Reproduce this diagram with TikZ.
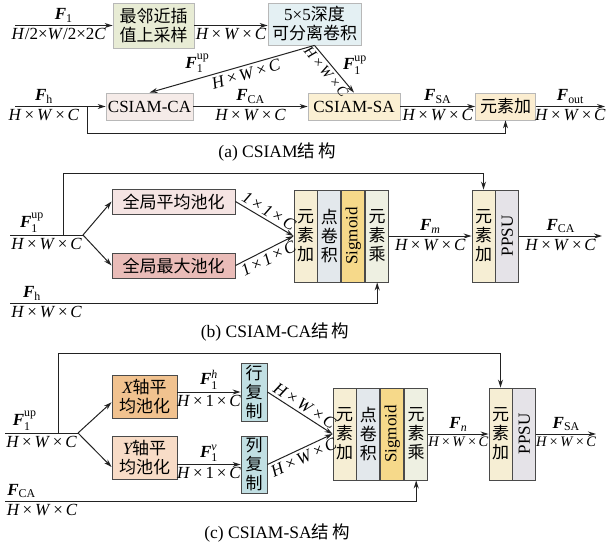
\documentclass[tikz,border=0pt]{standalone}
\usepackage{amsmath}
\usepackage{fontspec}
\setmainfont{Liberation Serif}
\newfontfamily\cjk{Noto Sans CJK SC}
\usetikzlibrary{positioning,arrows.meta,calc}
\definecolor{inkDark}{HTML}{222222}
\definecolor{edgeLight}{HTML}{B8B8B8}
\definecolor{edgeDark}{HTML}{4A4A4A}
\definecolor{upGreen}{HTML}{E8ECD5}
\definecolor{dwBlue}{HTML}{E4F0F3}
\definecolor{caPink}{HTML}{F5EBE8}
\definecolor{saYellow}{HTML}{FBF0D3}
\definecolor{sumCream}{HTML}{FBEDD0}
\definecolor{addCream}{HTML}{F6EED4}
\definecolor{pwBlue}{HTML}{E3E8EC}
\definecolor{sigYellow}{HTML}{F6D98A}
\definecolor{mulGrey}{HTML}{EEF0E2}
\definecolor{ppsuGrey}{HTML}{E5E3E8}
\definecolor{avgPink}{HTML}{F5E4E3}
\definecolor{maxPink}{HTML}{EABCB8}
\definecolor{xOrange}{HTML}{F1C28F}
\definecolor{yPeach}{HTML}{F8DCC7}
\definecolor{cpTeal}{HTML}{C1DFE3}
\newcommand\hwc{\textit{H}\,×\,\textit{W}\,×\,\textit{C}}
\newcommand\hoc{\textit{H}\,×\,1\,×\,\textit{C}}
\newcommand\ooc{\textit{1}\,×\,\textit{1}\,×\,\textit{C}}
\newcommand\Fsub[1]{\textbf{\textit{F}}$_{\text{#1}}$}
\newcommand\Fup[2]{\textbf{\textit{F}}$_{\text{#1}}^{\text{#2}}$}

\begin{document}
\begin{tikzpicture}[x=1pt,y=-1pt,font=\fontsize{17}{19}\selectfont,inner sep=2.5pt,
  cjkfont/.style={font=\cjk\fontsize{17}{19}\selectfont},
  smaller/.style={font=\fontsize{14.5}{16}\selectfont},
  boxA/.style={draw=edgeLight,line width=0.8pt,fill=#1,inner sep=0pt,align=center},
  boxB/.style={draw=edgeDark,line width=0.9pt,fill=#1,inner sep=0pt,align=center},
  colbox/.style={boxB=#1,cjkfont,minimum width=23pt,minimum height=92pt},
  line/.style={draw=inkDark,line width=1pt},
  arr/.style={line,-{Stealth[length=8pt,width=5pt]}},
  caption/.style={font=\fontsize{17.5}{19}\selectfont}]
\useasboundingbox (0,0) rectangle (609,546);

% (a)
\node[boxA=upGreen,minimum width=81pt,minimum height=45pt,cjkfont] (ups) at (153.5,25.5) {最邻近插\\值上采样};
\node[boxA=dwBlue,minimum width=93pt,minimum height=42pt,cjkfont] (dwc) at (314.5,24) {{\rmfamily 5×5}深度\\可分离卷积};
\node[boxA=caPink,minimum width=87pt,minimum height=27pt] (cam) at (149.5,106.5) {CSIAM-CA};
\node[boxA=saYellow,minimum width=92pt,minimum height=27pt] (sam) at (354,106.5) {CSIAM-SA};
\node[boxA=sumCream,minimum width=60pt,minimum height=27pt,cjkfont] (adda) at (505.5,106.5) {元素加};
\coordinate (inl) at (15,25.5);
\coordinate (inh) at (15,106.5);
\coordinate (brh) at (87,106.5);
\coordinate (brh2) at (87,133);
\coordinate (outa) at (605,106.5);
\draw[arr] (inl) -- node[above]{\Fsub{1}} node[below,xshift=-5pt]{\textit{H}/2×\textit{W}/2×2\textit{C}} (ups);
\draw[arr] (ups.east) -- node[below]{\hwc} (ups.east -| dwc.west);
\draw[arr] (dwc.south) -- node[sloped,below,pos=.43]{\hwc} node[pos=.71,above=3pt]{\Fup{1}{up}} (cam.north);
\draw[arr] (dwc.south) -- node[sloped,below,pos=.45,smaller]{\hwc} node[pos=.42,right=9pt]{\Fup{1}{up}} (sam.north);
\draw[arr] (inh) -- node[above,pos=.32]{\Fsub{h}} node[below,pos=.32]{\hwc} (cam);
\draw[arr] (cam) -- node[above]{\Fsub{CA}} node[below]{\hwc} (sam);
\draw[arr] (sam) -- node[above]{\Fsub{SA}} node[below]{\hwc} (adda);
\draw[arr] (adda) -- node[above]{\Fsub{out}} node[below]{\hwc} (outa);
\draw[arr] (brh) -- (brh2) -| (adda.south);
\node[caption] (capa) at (277,152) {(a)\ CSIAM{\cjk 结\,构}};

% (b)
\node[boxB=avgPink,minimum width=123pt,minimum height=25pt,cjkfont] (avgp) at (173.5,201.5) {全局平均池化};
\node[boxB=maxPink,minimum width=123pt,minimum height=25pt,cjkfont] (maxp) at (173.5,265.5) {全局最大池化};
\node[colbox=addCream] (addb) at (305.5,236) {元\\素\\加};
\node[colbox=pwBlue,right=0pt of addb] (pwb) {点\\卷\\积};
\node[colbox=sigYellow,right=0pt of pwb] (sigb) {\rotatebox{90}{\rmfamily Sigmoid}};
\node[colbox=mulGrey,right=0pt of sigb] (mulb) {元\\素\\乘};
\node[colbox=addCream] (add2b) at (483.5,236) {元\\素\\加};
\node[colbox=ppsuGrey,right=0pt of add2b] (ppsub) {\rotatebox{90}{\rmfamily PPSU}};
\coordinate (inb) at (10,235);
\coordinate (fkb) at (83,235);
\coordinate (tpb) at (63,235);
\coordinate (tpb2) at (63,173);
\coordinate (inhb) at (10,303);
\coordinate (outb) at (602,236);
\draw[line] (inb) -- node[above,pos=.3]{\Fup{1}{up}} node[below]{\hwc} (fkb);
\draw[arr] (fkb) -- (avgp.west);
\draw[arr] (fkb) -- (maxp.west);
\draw[arr] (tpb) -- (tpb2) -| (add2b.north);
\draw[arr] (avgp.east) -- node[sloped,above]{\ooc} (addb.west);
\draw[arr] (maxp.east) -- node[sloped,below]{\ooc} (addb.west);
\draw[arr] (inhb) -- node[above,pos=.06]{\Fsub{h}} node[below,pos=.1]{\hwc} (inhb -| mulb.south) -- (mulb.south);
\draw[arr] (mulb) -- node[above]{\Fsub{\textit{m}}} node[below]{\hwc} (add2b);
\draw[arr] (ppsub) -- node[above]{\Fsub{CA}} node[below]{\hwc} (outb);
\node[caption] (capb) at (275,332) {(b)\ CSIAM-CA{\cjk 结\,构}};

% (c)
\node[boxB=xOrange,minimum width=65pt,minimum height=43pt,cjkfont] (xpool) at (144.5,396.5) {{\rmfamily\itshape X}轴平\\均池化};
\node[boxB=yPeach,minimum width=65pt,minimum height=43pt,cjkfont] (ypool) at (144.5,457.5) {{\rmfamily\itshape Y}轴平\\均池化};
\node[boxB=cpTeal,minimum width=26pt,minimum height=58pt,cjkfont] (rowcp) at (254,392) {行\\复\\制};
\node[boxB=cpTeal,minimum width=26pt,minimum height=57pt,cjkfont] (colcp) at (254,464.5) {列\\复\\制};
\node[colbox=addCream] (addc) at (344.5,434) {元\\素\\加};
\node[colbox=pwBlue,right=0pt of addc] (pwc) {点\\卷\\积};
\node[colbox=sigYellow,right=0pt of pwc] (sigc) {\rotatebox{90}{\rmfamily Sigmoid}};
\node[colbox=mulGrey,right=0pt of sigc] (mulc) {元\\素\\乘};
\node[colbox=addCream] (add2c) at (500.5,434) {元\\素\\加};
\node[colbox=ppsuGrey,right=0pt of add2c] (ppsuc) {\rotatebox{90}{\rmfamily PPSU}};
\coordinate (inc) at (5,433);
\coordinate (fkc) at (78,433);
\coordinate (tpc) at (58,433);
\coordinate (tpc2) at (58,353);
\coordinate (inhc) at (5,501);
\coordinate (outc) at (596,434);
\draw[line] (inc) -- node[above,pos=.27]{\Fup{1}{up}} node[below]{\hwc} (fkc);
\draw[arr] (fkc) -- (xpool.190);
\draw[arr] (fkc) -- (ypool.196);
\draw[arr] (tpc) -- (tpc2) -| (add2c.north);
\draw[arr] (xpool.east |- rowcp) -- node[above]{\Fup{1}{\textit{h}}} node[below]{\hoc} (rowcp);
\draw[arr] (ypool.east |- colcp) -- node[above]{\Fup{1}{\textit{v}}} node[below]{\hoc} (colcp);
\draw[arr] (rowcp.east) -- node[sloped,above]{\hwc} (addc.west);
\draw[arr] (colcp.east) -- node[sloped,below]{\hwc} (addc.west);
\draw[arr] (inhc) -- node[above,pos=.04]{\Fsub{CA}} node[below,pos=.09]{\hwc} (inhc -| mulc.south) -- (mulc.south);
\draw[arr] (mulc) -- node[above]{\Fsub{\textit{n}}} node[below,smaller]{\hwc} (add2c);
\draw[arr] (ppsuc) -- node[above]{\Fsub{SA}} node[below,smaller]{\hwc} (outc);
\node[caption] (capc) at (277,533) {(c)\ CSIAM-SA{\cjk 结\,构}};
\end{tikzpicture}
\end{document}
